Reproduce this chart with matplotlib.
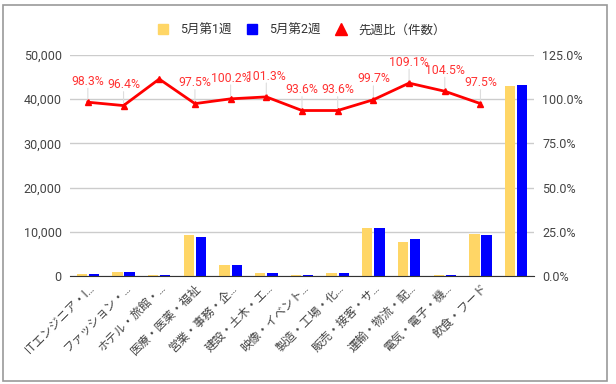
import matplotlib
matplotlib.use('Agg')
import matplotlib.pyplot as plt
from matplotlib.patches import Rectangle
from matplotlib.ticker import FuncFormatter, MultipleLocator
from matplotlib.lines import Line2D

plt.rcParams['font.family'] = ['Roboto', 'Noto Sans CJK JP', 'DejaVu Sans']

# data
categories = ['ITエンジニア・I…', 'ファッション・…', 'ホテル・旅館・…', '医療・医薬・福祉',
              '営業・事務・企…', '建設・土木・エ…', '映像・イベント…', '製造・工場・化…',
              '販売・接客・サ…', '運輸・物流・配…', '電気・電子・機…', '飲食・フード', '']
week1 = [500, 1000, 300, 9300, 2500, 700, 200, 700, 10900, 7700, 200, 9500, 43000]
week2 = [500, 1000, 300, 8900, 2500, 700, 200, 700, 10900, 8400, 200, 9300, 43100]
ratio = [98.3, 96.4, 111.4, 97.5, 100.2, 101.3, 93.6, 93.6, 99.7, 109.1, 104.5, 97.5]
ratio_labels = ['98.3%', '96.4%', '', '97.5%', '100.2%', '101.3%', '93.6%', '93.6%',
                '99.7%', '109.1%', '104.5%', '97.5%']

fig = plt.figure(figsize=(6.16, 3.84), dpi=100)
ax = fig.add_axes([70 / 616, 108 / 384, 464 / 616, 221 / 384])
ax2 = ax.twinx()

x = list(range(len(categories)))
w = 0.29
ax.bar([i - 0.17 for i in x], week1, width=w, color='#ffd666', zorder=2)
ax.bar([i + 0.17 for i in x], week2, width=w, color='#0000ff', zorder=2)

ax.set_ylim(0, 50000)
ax.set_xlim(-0.5, len(categories) - 0.5)
ax.yaxis.set_major_locator(MultipleLocator(10000))
ax.yaxis.set_major_formatter(FuncFormatter(lambda v, p: f'{int(v):,}'))
ax.grid(axis='y', color='#cccccc', lw=1, zorder=0)
ax.set_axisbelow(True)
for s in ['top', 'right', 'left']:
    ax.spines[s].set_visible(False)
ax.spines['bottom'].set_color('#333333')
ax.tick_params(axis='y', length=0, labelsize=9, labelcolor='#444444', pad=6)
ax.tick_params(axis='x', length=0, labelsize=8.5, labelcolor='#444444', pad=4)
ax.set_xticks(x)
ax.set_xticklabels(categories, rotation=45, ha='right', rotation_mode='anchor')

# ratio line
lx = x[:len(ratio)]
ax2.plot(lx, ratio, color='#ff0000', lw=2, marker='^', ms=4, zorder=3)
ax2.set_ylim(0, 125)
ax2.yaxis.set_major_locator(MultipleLocator(25))
ax2.yaxis.set_major_formatter(FuncFormatter(lambda v, p: f'{v:.1f}%'))
ax2.tick_params(axis='y', length=0, labelsize=9, labelcolor='#444444', pad=6)
for s in ['top', 'right', 'left', 'bottom']:
    ax2.spines[s].set_visible(False)
for xi, yi, lab in zip(lx, ratio, ratio_labels):
    if not lab:
        continue
    ax2.annotate('', xy=(xi, yi), xytext=(0, 12), textcoords='offset points',
                 arrowprops=dict(arrowstyle='-', color='#dddddd', lw=0.8))
    ax2.annotate(lab, xy=(xi, yi), xytext=(0, 15), textcoords='offset points',
                 ha='center', va='center', color='#ff3333', fontsize=8.8)

# legend
handles = [Line2D([], [], ls='', marker='s', ms=7.5, color='#ffd666'),
           Line2D([], [], ls='', marker='s', ms=7.5, color='#0000ff'),
           Line2D([], [], ls='', marker='^', ms=8, color='#ff0000')]
fig.legend(handles, ['5月第1週', '5月第2週', '先週比（件数）'], loc='center',
           bbox_to_anchor=(301 / 616, 1 - 30 / 384), ncol=3, frameon=False,
           fontsize=9, handlelength=1.0, handletextpad=0.9, columnspacing=1.1,
           labelcolor='#333333')

# border
fig.patches.append(Rectangle((3 / 616, 3 / 384), 604 / 616, 376 / 384,
                             transform=fig.transFigure, fill=False,
                             edgecolor='#999999', lw=1.2))

fig.savefig('out.png', dpi=100)
